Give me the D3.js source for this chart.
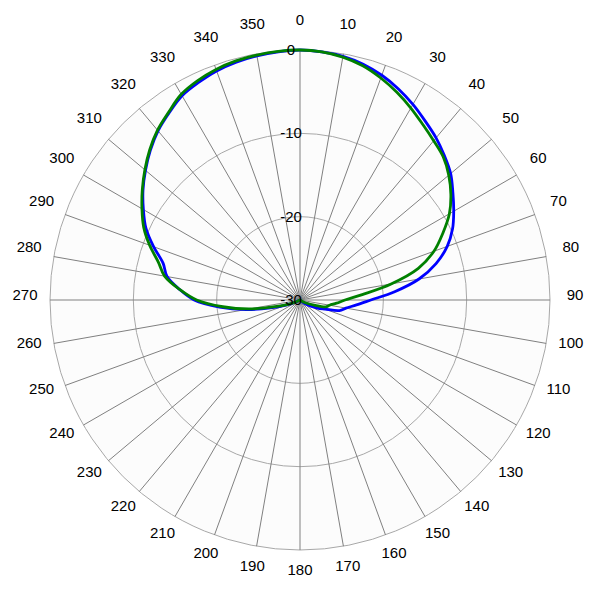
<!DOCTYPE html>
<html>
<head>
<meta charset="utf-8">
<script src="https://cdn.jsdelivr.net/npm/d3@7"></script>
<style>
html,body{margin:0;padding:0;background:#fff;}
svg{display:block;}
text{font-family:"Liberation Sans",Arial,sans-serif;}
</style>
</head>
<body>
<script>
const angles = [0,5,10,15,20,25,30,35,40,45,50,55,60,65,70,75,80,85,90,95,100,105,110,115,120,125,130,135,140,145,150,155,160,165,170,175,180,185,190,195,200,205,210,215,220,225,230,235,240,245,250,255,260,265,270,275,280,285,290,295,300,305,310,315,320,325,330,335,340,345,350,355];
const blueValues = [0,-0.1,-0.3,-0.7,-1.3,-2.05,-2.9,-3.8,-4.6,-5.5,-6.4,-7.6,-8.7,-9.8,-11.2,-13.1,-15.5,-18.6,-21.5,-23.2,-24.4,-25.1,-26.8,-27.7,-28.5,-29.1,-29.6,-30,-30,-30,-30,-30,-30,-30,-30,-30,-30,-30,-30,-30,-30,-30,-30,-30,-30,-30,-30,-30,-30,-29.3,-28.2,-26.3,-23.4,-20.3,-17.3,-15.5,-13.8,-13.0,-11.3,-9.6,-8.3,-7.0,-5.8,-4.6,-3.5,-2.6,-1.7,-1.2,-0.75,-0.45,-0.25,-0.1];
const greenValues = [0,-0.1,-0.4,-0.9,-1.65,-2.5,-3.4,-4.3,-5.05,-5.7,-6.7,-7.9,-9.3,-11.1,-12.9,-15.3,-18.9,-22.5,-24.6,-25.6,-26.4,-26.8,-28.2,-29.0,-29.6,-30,-30,-30,-30,-30,-30,-30,-30,-30,-30,-30,-30,-30,-30,-30,-30,-30,-30,-30,-30,-30,-30,-30,-30,-29.5,-28.5,-26.9,-23.8,-20.7,-17.6,-15.5,-13.5,-12.4,-10.8,-9.3,-8.1,-6.9,-5.7,-4.5,-3.4,-2.5,-1.5,-0.95,-0.55,-0.3,-0.15,-0.05];
const spokeAngles = [0,10,20,30,40,50,60,70,80,90,100,110,120,130,140,150,160,170,180,190,200,210,220,230,240,250,260,270,280,290,300,310,320,330,340,350];
const ringValues = [0,-10,-20,-30];

const W = 600, H = 600, cx = 300, cy = 300, R = 250;
const svg = d3.select("body").append("svg").attr("width", W).attr("height", H);
const g = svg.append("g").attr("transform", `translate(${cx},${cy})`);

const r = d3.scaleLinear().domain([-30, 0]).range([0, R]).clamp(true);
const toRad = d => d * Math.PI / 180;

// plot background
g.append("circle").attr("r", R).attr("fill", "#fcfcfc");

// rings
g.selectAll("circle.ring").data(ringValues.filter(v => r(v) > 0)).enter()
  .append("circle").attr("class","ring")
  .attr("r", d => r(d)).attr("fill","none").attr("stroke","#a8a8a8").attr("stroke-width",1);

// spokes
g.selectAll("line.spoke").data(spokeAngles).enter().append("line")
  .attr("x1",0).attr("y1",0)
  .attr("x2", d => R * Math.sin(toRad(d)))
  .attr("y2", d => -R * Math.cos(toRad(d)))
  .attr("stroke","#808080").attr("stroke-width",1);

// angle labels
g.selectAll("text.ang").data(spokeAngles).enter().append("text")
  .attr("x", d => 275 * Math.sin(toRad(d)))
  .attr("y", d => -275 * Math.cos(toRad(d)))
  .attr("text-anchor","middle")
  .attr("font-size", 15).attr("fill","#000")
  .text(d => d);

// series
const line = d3.lineRadial()
  .angle((d,i) => toRad(angles[i]))
  .radius(d => r(d))
  .curve(d3.curveCatmullRomClosed.alpha(0.5));

g.append("path").datum(blueValues).attr("d", line)
  .attr("fill","none").attr("stroke","#0000ff").attr("stroke-width",2.8).attr("stroke-linejoin","round");
g.append("path").datum(greenValues).attr("d", line)
  .attr("fill","none").attr("stroke","#008000").attr("stroke-width",2.8).attr("stroke-linejoin","round");

// ring labels
g.selectAll("text.ringlab").data(ringValues).enter().append("text")
  .attr("x", -9)
  .attr("y", d => -r(d) + 5)
  .attr("text-anchor","middle")
  .attr("font-size", 15).attr("fill","#000")
  .text(d => d);
</script>
</body>
</html>
